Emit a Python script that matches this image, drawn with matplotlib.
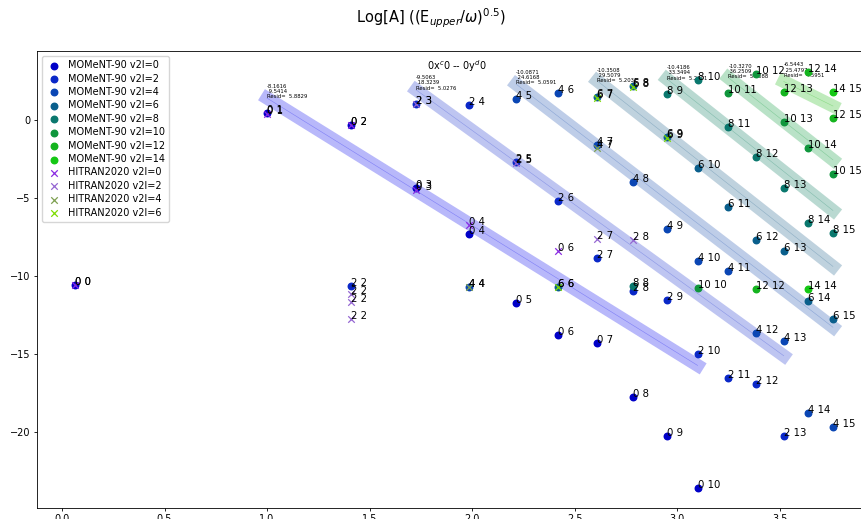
import numpy as np
import matplotlib.pyplot as plt

# x position of each upper level v (index = v)
x_of_v = [0.063, 1.0, 1.41, 1.727, 1.985, 2.215, 2.42, 2.61, 2.785, 2.95,
          3.10, 3.25, 3.385, 3.52, 3.64, 3.76]

# MOMeNT-90 values, one pair of lists per v2l
m0_v = [0, 1, 2, 3, 4, 5, 6, 7, 8, 9, 10]
m0_y = [-10.6, 0.45, -0.32, -4.36, -7.33, -11.76, -13.8, -14.3, -17.8, -20.3, -23.6]
m2_v = [2, 3, 4, 5, 6, 7, 8, 9, 10, 11, 12, 13]
m2_y = [-10.65, 1.0, 0.96, -2.7, -5.2, -8.9, -11.0, -11.55, -15.0, -16.55, -16.95, -20.3]
m4_v = [4, 5, 6, 7, 8, 9, 10, 11, 12, 13, 14, 15]
m4_y = [-10.7, 1.35, 1.73, -1.6, -3.97, -7.0, -9.04, -9.7, -13.65, -14.2, -18.8, -19.7]
m6_v = [6, 7, 8, 9, 10, 11, 12, 13, 14, 15]
m6_y = [-10.7, 1.47, 2.18, -1.1, -3.07, -5.6, -7.7, -8.4, -11.6, -12.8]
m8_v = [8, 9, 10, 11, 12, 13, 14, 15]
m8_y = [-10.65, 1.65, 2.55, -0.5, -2.4, -4.4, -6.6, -7.25]
m10_v = [10, 11, 12, 13, 14, 15]
m10_y = [-10.8, 1.73, 2.9, -0.13, -1.8, -3.46]
m12_v = [12, 13, 14, 15]
m12_y = [-10.85, 1.8, 3.08, 0.13]
m14_v = [14, 15]
m14_y = [-10.85, 1.8]

# HITRAN2020 values
h0_v = [0, 1, 2, 3, 4, 6]
h0_y = [-10.6, 0.35, -0.35, -4.5, -6.75, -8.4]
h2_v = [2, 2, 2, 3, 5, 7, 8]
h2_y = [-11.2, -11.7, -12.8, 1.0, -2.75, -7.63, -7.7]
h4_v = [4, 7]
h4_y = [-10.75, -1.8]
h6_v = [6, 7, 8, 9]
h6_y = [-10.75, 1.4, 2.1, -1.2]

# linear fits (one per v2l series, drawn as bands)
fit_l = [0, 2, 4, 6, 8, 10, 12]
fit_slope = [-8.1616, -9.5063, -10.0871, -10.3508, -10.4186, -10.3270, -6.5443]
fit_icept = [9.5414, 18.3239, 24.6168, 29.5079, 33.3494, 36.2509, 25.4797]
fit_resid = [5.8829, 5.0276, 5.0591, 5.2031, 5.2801, 5.3088, 4.5951]
fit_vstart = [1, 3, 5, 7, 9, 11, 13]
fit_vend = [10, 13, 15, 15, 15, 15, 15]

m_l = [0, 2, 4, 6, 8, 10, 12, 14]
m_v = [m0_v, m2_v, m4_v, m6_v, m8_v, m10_v, m12_v, m14_v]
m_y = [m0_y, m2_y, m4_y, m6_y, m8_y, m10_y, m12_y, m14_y]
h_l = [0, 2, 4, 6]
h_v = [h0_v, h2_v, h4_v, h6_v]
h_y = [h0_y, h2_y, h4_y, h6_y]

m_colors = ['#0000c8', '#0a28c8', '#0a46b4', '#0a5f8c', '#0a786e', '#0f963c', '#14b41e', '#14c814']
h_colors = ['#8a2be2', '#9466d2', '#7da050', '#7ddc00']
band_colors = ['#1414f0', '#2a3fd2', '#2a5ab4', '#2e6a92', '#1a8468', '#1aa046', '#2ebd23']

fig = plt.figure(figsize=(8.61, 5.19), dpi=100)
ax = fig.add_axes([37/861, 11/519, 839/861, 457/519])

for i in range(len(fit_l)):
    xs = np.array([x_of_v[fit_vstart[i]], x_of_v[fit_vend[i]]])
    ys = fit_slope[i]*xs+fit_icept[i]
    c = band_colors[i]
    ax.plot(xs, ys, color=c, lw=9.4, alpha=0.3, zorder=1)
    ax.plot(xs, ys, color=c, lw=0.4, alpha=0.35, zorder=1)
    # text above the first point of the series
    k = m_v[i].index(fit_vstart[i])
    ax.text(x_of_v[fit_vstart[i]], m_y[i][k]+0.85,
            f"{fit_slope[i]:.4f}\n {fit_icept[i]:.4f}\nResid=  {fit_resid[i]:.4f}",
            fontsize=3.8, ha='left', va='bottom', linespacing=1.1, zorder=1.5)

for i in range(len(m_l)):
    xs = [x_of_v[v] for v in m_v[i]]
    ax.scatter(xs, m_y[i], s=22, color=m_colors[i], zorder=2,
               label=f"MOMeNT-90 v2l={m_l[i]}")
    for v, x, y in zip(m_v[i], xs, m_y[i]):
        ax.text(x, y, f"{m_l[i]} {v}", fontsize=7.3, zorder=3)

for i in range(len(h_l)):
    xs = [x_of_v[v] for v in h_v[i]]
    ax.scatter(xs, h_y[i], s=22, marker='x', color=h_colors[i], linewidths=0.9,
               zorder=2.5, label=f"HITRAN2020 v2l={h_l[i]}")
    for v, x, y in zip(h_v[i], xs, h_y[i]):
        ax.text(x, y, f"{h_l[i]} {v}", fontsize=7.3, zorder=3)

ax.set_xlim(-0.122, 3.97)
ax.set_ylim(-24.9, 4.4)
ax.tick_params(labelsize=7, width=0.6, length=2.5, pad=2)
for s in ax.spines.values():
    s.set_linewidth(0.6)
ax.text(0.5, 0.985, "0x$^c$0 -- 0y$^d$0", transform=ax.transAxes,
        ha='center', va='top', fontsize=7)
fig.text(0.5, 1-18/519, "Log[A] ((E$_{upper}$/$\\omega$)$^{0.5}$)",
         ha='center', va='center', fontsize=10.5)
ax.legend(loc='upper left', fontsize=7, labelspacing=0.35, borderpad=0.45,
          handletextpad=0.6, handlelength=1.6)

plt.savefig("out.png", dpi=100)
plt.close()
